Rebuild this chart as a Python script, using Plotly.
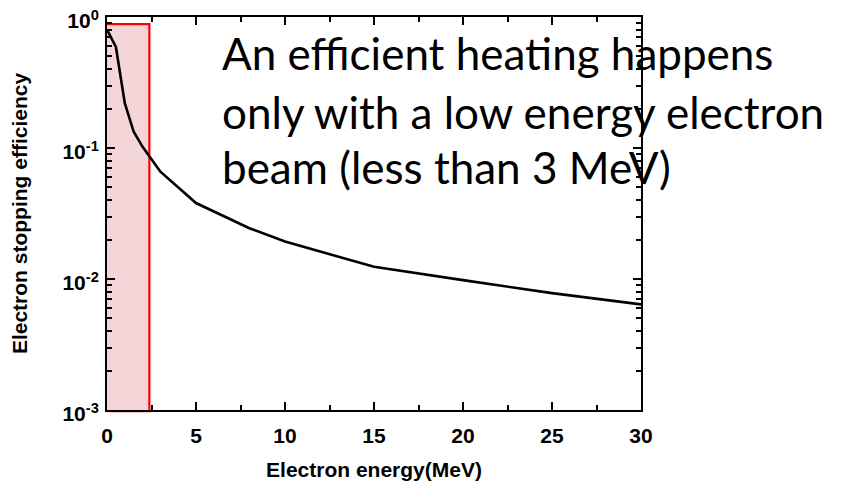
import plotly.graph_objects as go

# Data
energy = [0, 0.5, 1, 1.5, 2, 3, 5, 8, 10, 15, 20, 25, 30]
efficiency = [0.80, 0.59, 0.22, 0.133, 0.102, 0.066, 0.038, 0.0244, 0.0193, 0.0124, 0.0098, 0.0078, 0.0064]

x_ticks = [0, 5, 10, 15, 20, 25, 30]
y_ticks = [1, 0.1, 0.01, 0.001]
y_ticktext = ["10<sup>0</sup>", "10<sup>-1</sup>", "10<sup>-2</sup>", "10<sup>-3</sup>"]

highlight_x = [-0.08, 2.38]
note_lines = ["An efficient heating happens",
              "only with a low energy electron",
              "beam (less than 3 MeV)"]

fig = go.Figure()
fig.add_trace(go.Scatter(x=energy, y=efficiency, mode="lines",
                         line=dict(color="black", width=2.6),
                         showlegend=False, cliponaxis=False))

fig.add_shape(type="rect", xref="x", yref="paper",
              x0=highlight_x[0], x1=highlight_x[1], y0=-0.003, y1=0.982,
              fillcolor="#F4D5D8", line=dict(color="#FF0000", width=2.2),
              layer="below")

tickfont = dict(family="Arial", size=21, color="black", weight=700)
axis_common = dict(showline=True, linecolor="black", linewidth=2, mirror="ticks",
                   ticks="inside", ticklen=8, tickwidth=1.5, tickcolor="black",
                   showgrid=False, zeroline=False, tickfont=tickfont, automargin=False,
                   ticklabeloverflow="allow")

fig.update_xaxes(range=[0, 30], tickvals=x_ticks, ticklabelstandoff=6,
                 minor=dict(ticks="inside", ticklen=5, tickwidth=1.5, tickcolor="black", dtick=2.5),
                 title=dict(text="Electron energy(MeV)", standoff=16,
                            font=dict(family="Arial", size=21, color="black", weight=700)),
                 **axis_common)
fig.update_yaxes(type="log", range=[-3, 0], tickvals=y_ticks, ticktext=y_ticktext,
                 ticklabelstandoff=2, ticklabelshift=4,
                 minor=dict(ticks="inside", ticklen=5, tickwidth=1.5, tickcolor="black", dtick="D1"),
                 title=dict(text="Electron stopping efficiency", standoff=32,
                            font=dict(family="Arial", size=21, color="black", weight=700)),
                 **axis_common)

ys = [0.908, 0.759, 0.618]
for txt, yy in zip(note_lines, ys):
    fig.add_annotation(text=txt, xref="paper", yref="paper", x=0.212, y=yy,
                       xanchor="left", yanchor="middle", showarrow=False,
                       font=dict(family="Lato", size=44, color="black"))

# the page adds an 8px body margin, so the margins are compensated for it
fig.update_layout(width=850, height=488,
                  margin=dict(l=99, r=217, t=9, b=86),
                  plot_bgcolor="white", paper_bgcolor="white")

fig.write_html("out.html")
